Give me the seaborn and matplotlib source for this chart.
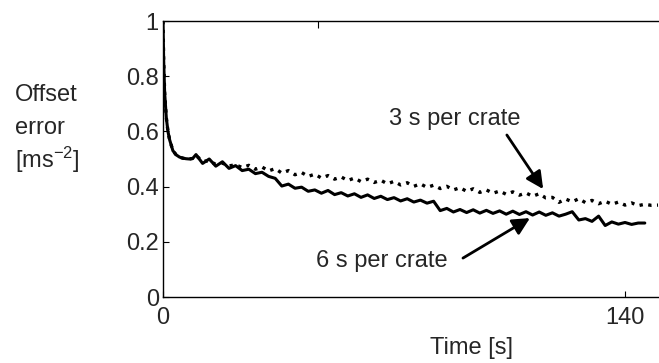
import pandas as pd
import matplotlib
matplotlib.use('Agg')
import matplotlib.pyplot as plt
import seaborn as sns

# sampling times [s]
t_early = [0, 0.2, 0.5, 1, 1.5, 2, 3, 4, 5, 6, 7, 8, 9]
t_main = [10, 12, 14, 16, 18, 20, 22, 24, 26, 28, 30, 32, 34, 36, 38, 40,
          42, 44, 46, 48, 50, 52, 54, 56, 58, 60, 62, 64, 66, 68, 70, 72,
          74, 76, 78, 80, 82, 84, 86, 88, 90, 92, 94, 96, 98, 100, 102, 104,
          106, 108, 110, 112, 114, 116, 118, 120, 122, 124, 126, 128, 130,
          132, 134, 136, 138, 140, 142, 144, 146]
t_tail3 = [148, 150]

# offset error, common start of both runs
err_early = [1.0, 0.86, 0.74, 0.65, 0.6, 0.57, 0.53, 0.515, 0.507, 0.503,
             0.501, 0.50, 0.502]

# 6 s per crate (solid)
err_6s = [0.516, 0.484, 0.500, 0.474, 0.490, 0.466, 0.476, 0.458, 0.463,
          0.447, 0.452, 0.437, 0.430, 0.402, 0.409, 0.394, 0.398, 0.383,
          0.388, 0.376, 0.386, 0.371, 0.378, 0.366, 0.374, 0.361, 0.370,
          0.357, 0.365, 0.353, 0.360, 0.348, 0.356, 0.344, 0.351, 0.340,
          0.347, 0.313, 0.321, 0.308, 0.317, 0.306, 0.316, 0.304, 0.314,
          0.303, 0.312, 0.300, 0.311, 0.299, 0.309, 0.297, 0.308, 0.296,
          0.305, 0.293, 0.300, 0.309, 0.279, 0.284, 0.274, 0.293, 0.259,
          0.272, 0.264, 0.270, 0.263, 0.268, 0.268]

# 3 s per crate (dotted)
err_3s = [0.512, 0.493, 0.492, 0.481, 0.485, 0.475, 0.479, 0.469, 0.477,
          0.463, 0.471, 0.457, 0.465, 0.449, 0.458, 0.443, 0.451, 0.437,
          0.445, 0.431, 0.440, 0.427, 0.435, 0.422, 0.431, 0.418, 0.427,
          0.415, 0.423, 0.410, 0.419, 0.406, 0.414, 0.401, 0.410, 0.397,
          0.405, 0.393, 0.401, 0.388, 0.396, 0.383, 0.392, 0.379, 0.388,
          0.376, 0.384, 0.372, 0.381, 0.369, 0.377, 0.365, 0.374, 0.359,
          0.361, 0.343, 0.355, 0.345, 0.356, 0.342, 0.350, 0.338, 0.347,
          0.336, 0.344, 0.333, 0.341, 0.331, 0.336, 0.332, 0.333]

x_ticks = [0, 140]
y_ticks = [0, 0.2, 0.4, 0.6, 0.8, 1]
y_tick_labels = ['0', '0.2', '0.4', '0.6', '0.8', '1']

sns.set_style('ticks')
plt.rcParams['font.family'] = ['Liberation Sans', 'DejaVu Sans']
plt.rcParams['mathtext.default'] = 'regular'
FS = 17

df6 = pd.DataFrame({'t': t_early + t_main, 'err': err_early + err_6s})
df3 = pd.DataFrame({'t': t_early + t_main + t_tail3, 'err': err_early + err_3s})

fig = plt.figure(figsize=(6.59, 3.63), dpi=100)
ax = fig.add_axes([163 / 659, 66 / 363, 496 / 659, 276 / 363])

sns.lineplot(data=df3, x='t', y='err', ax=ax, color='black',
             linestyle=':', linewidth=2.4)
sns.lineplot(data=df6, x='t', y='err', ax=ax, color='black',
             linewidth=2.2)

ax.set_xlim(0, 496 / 3.3)
ax.set_ylim(0, 1)
ax.set_xticks(x_ticks)
ax.set_xticklabels([str(v) for v in x_ticks], fontsize=FS)
ax.set_yticks(y_ticks)
ax.set_yticklabels(y_tick_labels, fontsize=FS)
ax.tick_params(direction='in', length=4, width=0.8, color='black')
ax.tick_params(axis='x', pad=7)
ax.tick_params(axis='y', pad=3)
ax.set_xlabel('')
ax.set_ylabel('')
ax.spines['right'].set_visible(False)
for s in ['left', 'bottom', 'top']:
    ax.spines[s].set_color('black')
    ax.spines[s].set_linewidth(1.0)

# single tick on the top frame
top = ax.secondary_xaxis('top')
top.set_xticks([47])
top.set_xticklabels([''])
top.tick_params(direction='in', length=5, width=0.8, color='black')
top.spines['top'].set_visible(False)

arrow = dict(arrowstyle='-|>', color='black', lw=2, mutation_scale=26,
             shrinkA=0, shrinkB=0)
ax.annotate('', xy=(115.2, 0.391), xytext=(104.2, 0.587), arrowprops=arrow)
ax.annotate('', xy=(111.2, 0.286), xytext=(90.9, 0.141), arrowprops=arrow)
ax.text(108.2, 0.623, '3 s per crate', ha='right', va='baseline', fontsize=FS)
ax.text(86.4, 0.109, '6 s per crate', ha='right', va='baseline', fontsize=FS)

fig.text(471 / 659, 1 - 348 / 363, 'Time [s]', ha='center', va='center',
         fontsize=FS)
fig.text(15 / 659, 1 - 95 / 363, 'Offset', ha='left', va='center', fontsize=FS)
fig.text(15 / 659, 1 - 128 / 363, 'error', ha='left', va='center', fontsize=FS)
fig.text(15 / 659, 1 - 160 / 363, '[ms$^{-2}$]', ha='left', va='center',
         fontsize=FS)

fig.savefig('out.png', dpi=100)
